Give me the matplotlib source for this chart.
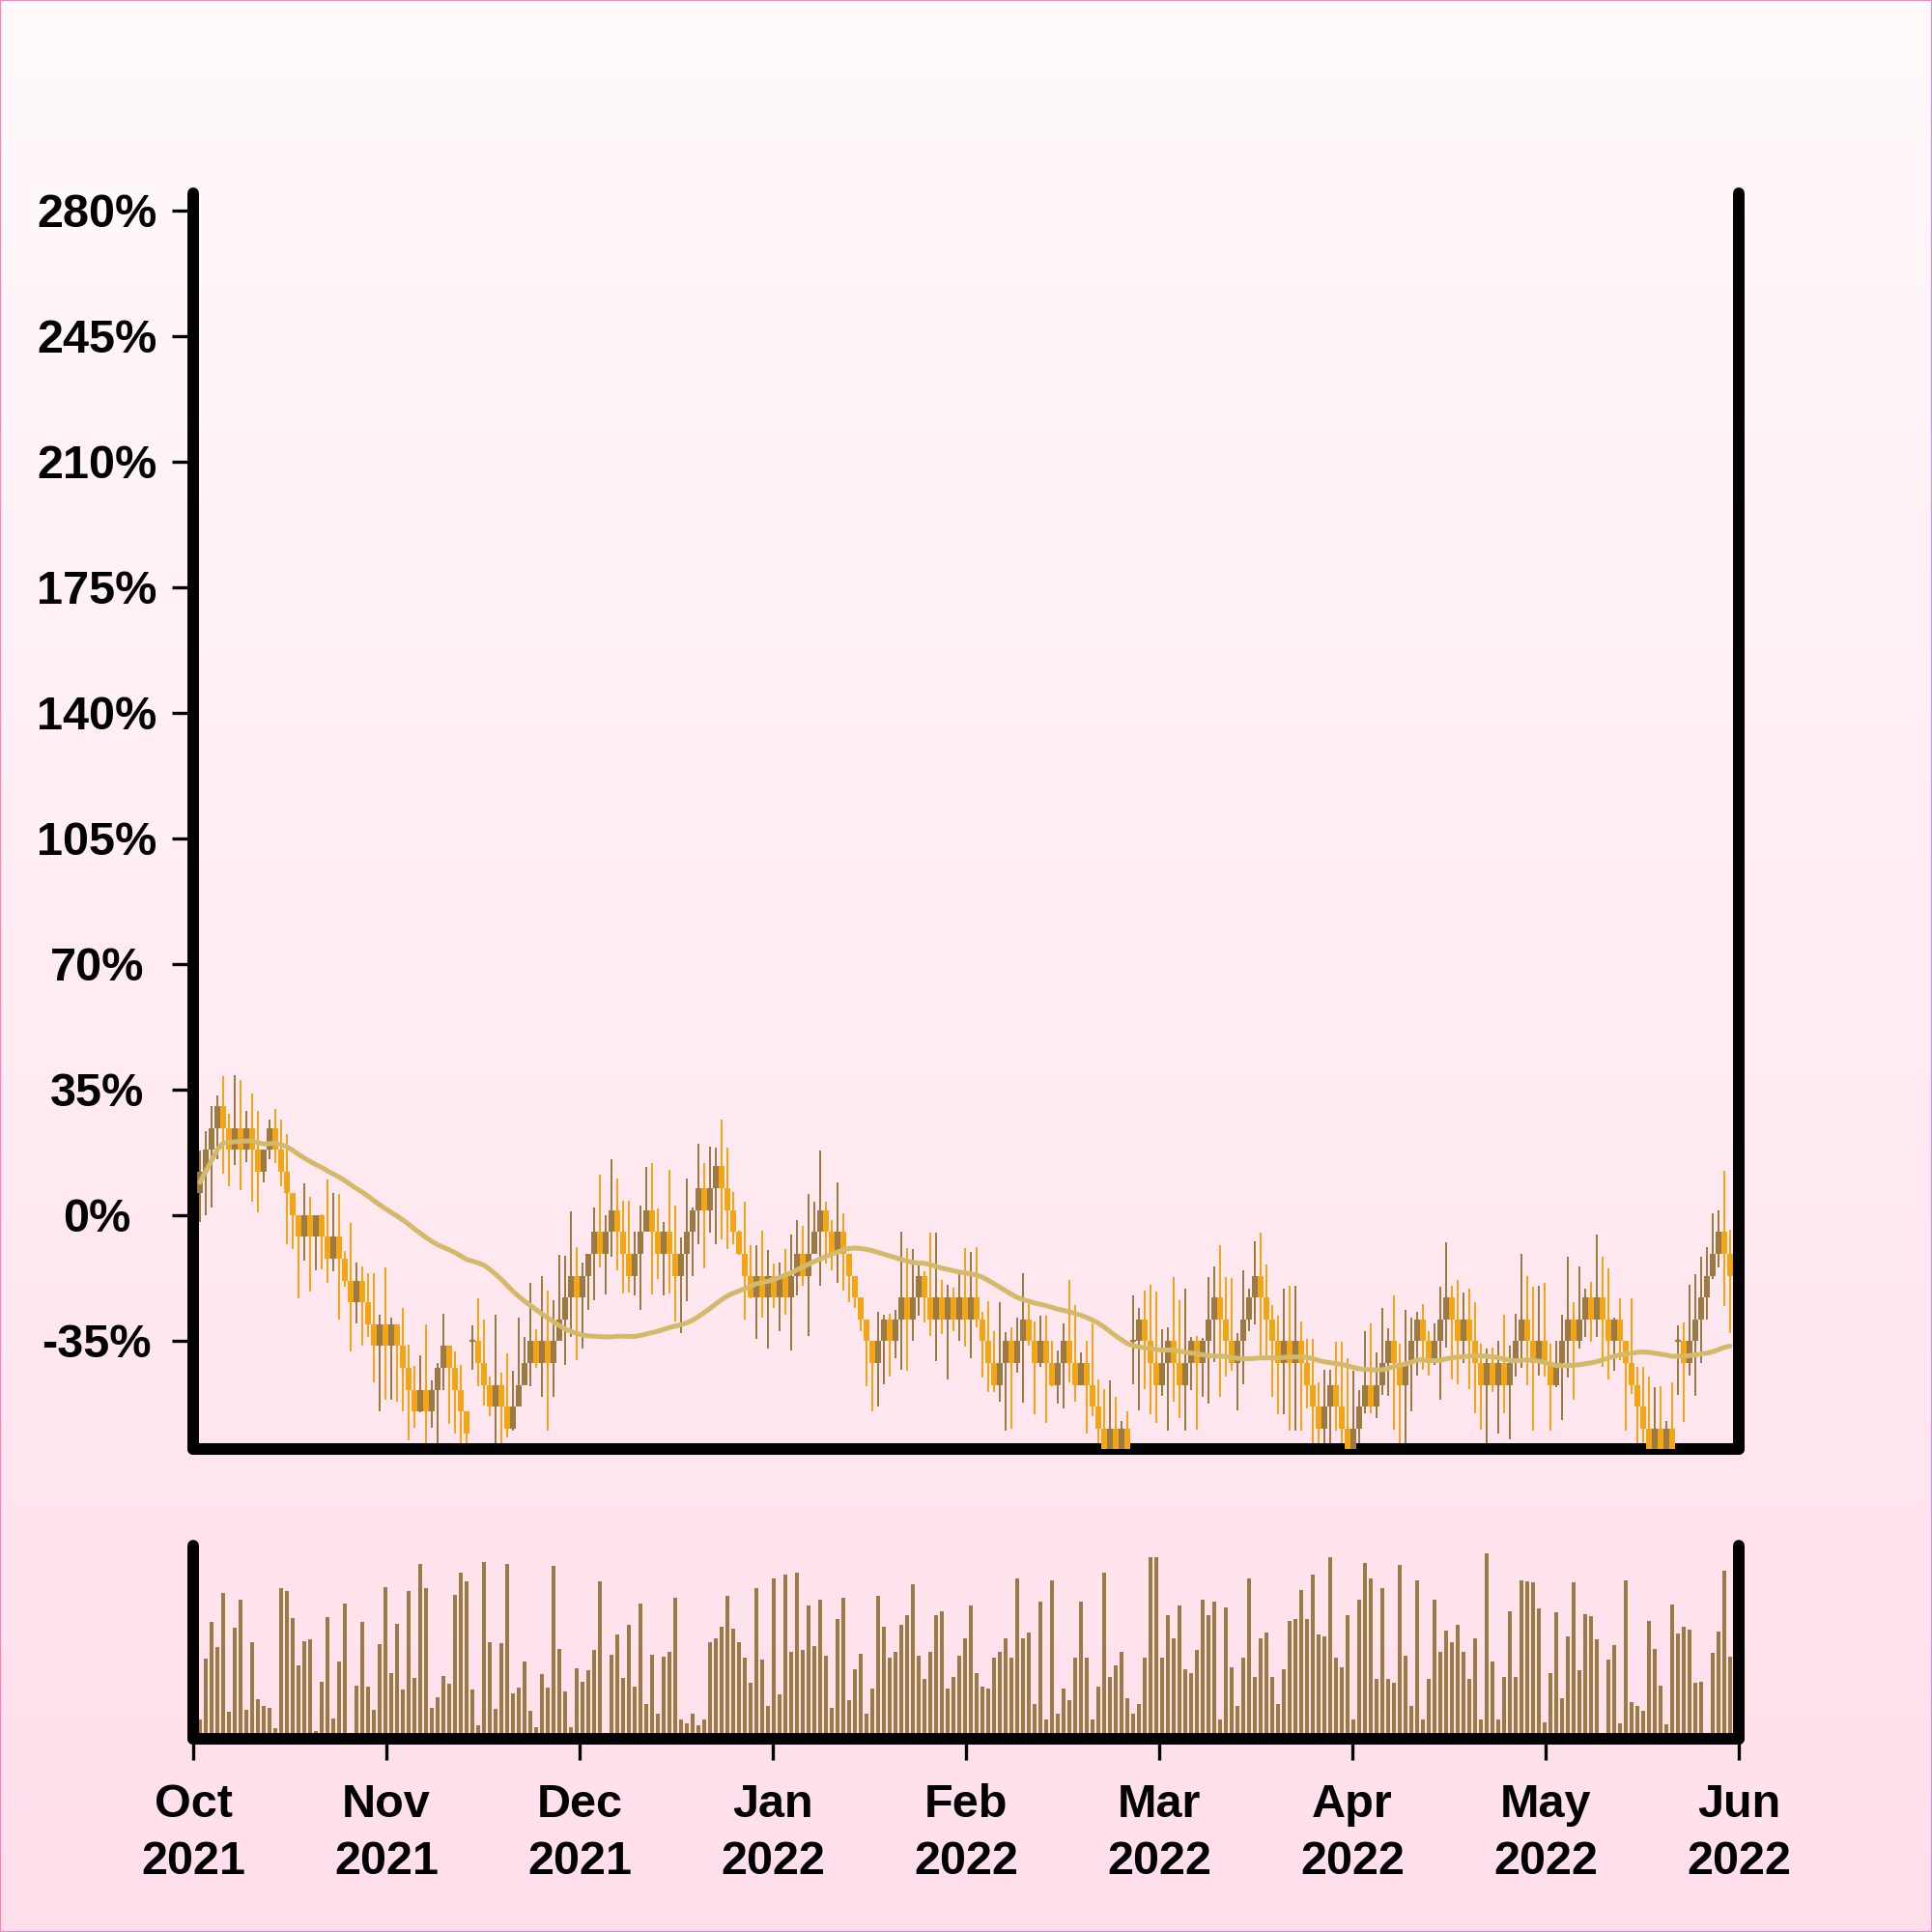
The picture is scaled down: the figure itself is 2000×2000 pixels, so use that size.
import numpy as np
import pandas as pd
import matplotlib
matplotlib.use("Agg")
import matplotlib.pyplot as plt
from matplotlib.ticker import FixedLocator, FuncFormatter
from matplotlib.patches import Rectangle

# ---------------- data ----------------
close_pct = [12.2, 18.3, 24.3, 30.4, 24.3, 18.3, 24.3, 18.3, 24.3, 18.3,
             12.2, 18.3, 24.3, 18.3, 12.2, 6.1, 0.0, -6.1, 0.0, -6.1,
             0.0, -6.1, -12.2, -6.1, -12.2, -18.3, -24.3, -18.3, -24.3, -30.4,
             -36.5, -30.4, -36.5, -30.4, -36.5, -42.6, -48.7, -54.8, -48.7, -54.8,
             -48.7, -42.6, -36.5, -42.6, -48.7, -54.8, -60.9, -35.1, -41.2, -47.3,
             -53.4, -47.3, -53.4, -59.5, -53.4, -47.3, -41.2, -35.1, -41.2, -35.1,
             -41.2, -35.1, -29.0, -22.9, -16.9, -22.9, -16.9, -10.8, -4.7, -10.8,
             -4.7, 1.4, -4.7, -10.8, -16.9, -10.8, -4.7, 1.4, -4.7, -10.8,
             -4.7, -10.8, -16.9, -10.8, -4.7, 1.4, 7.5, 1.4, 7.5, 13.6,
             7.5, 1.4, -4.7, -10.8, -16.9, -22.9, -16.9, -22.9, -16.9, -22.9,
             -16.9, -22.9, -16.9, -10.8, -16.9, -10.8, -4.7, 1.4, -4.7, -10.8,
             -4.7, -10.8, -16.9, -22.9, -29.0, -35.1, -41.2, -35.1, -29.0, -35.1,
             -29.0, -22.9, -29.0, -22.9, -16.9, -22.9, -29.0, -22.9, -29.0, -22.9,
             -29.0, -22.9, -29.0, -22.9, -29.0, -35.1, -41.2, -47.3, -41.2, -35.1,
             -41.2, -35.1, -29.0, -35.1, -41.2, -35.1, -41.2, -47.3, -41.2, -35.1,
             -41.2, -47.3, -41.2, -47.3, -53.4, -59.5, -65.6, -59.5, -65.6, -59.5,
             -65.6, -35.1, -29.0, -35.1, -41.2, -47.3, -41.2, -35.1, -41.2, -47.3,
             -41.2, -35.1, -41.2, -35.1, -29.0, -22.9, -29.0, -35.1, -41.2, -35.1,
             -29.0, -22.9, -16.9, -22.9, -29.0, -35.1, -41.2, -35.1, -41.2, -35.1,
             -41.2, -47.3, -53.4, -59.5, -53.4, -47.3, -53.4, -59.5, -65.6, -59.5,
             -53.4, -47.3, -53.4, -47.3, -41.2, -35.1, -41.2, -47.3, -41.2, -35.1,
             -29.0, -35.1, -41.2, -35.1, -29.0, -22.9, -29.0, -35.1, -29.0, -35.1,
             -41.2, -47.3, -41.2, -47.3, -41.2, -47.3, -41.2, -35.1, -29.0, -35.1,
             -41.2, -35.1, -41.2, -47.3, -41.2, -35.1, -29.0, -35.1, -29.0, -22.9,
             -29.0, -22.9, -29.0, -35.1, -29.0, -35.1, -41.2, -47.3, -53.4, -59.5,
             -65.6, -59.5, -65.6, -59.5, -65.6, -35.1, -41.2, -35.1, -29.0, -22.9,
             -16.9, -10.8, -4.7, -10.8, -16.9]

high_pct = [18.0, 23.3, 30.5, 33.4, 38.6, 28.3, 39.0, 37.7, 28.9, 33.8,
            28.9, 18.3, 26.7, 29.6, 26.5, 22.6, 5.4, 0.0, 8.8, 5.0,
            0.0, 0.2, 9.9, 6.1, 5.8, -10.0, -2.2, -13.3, -14.4, -16.2,
            -16.2, -27.8, -14.6, -28.7, -30.4, -26.0, -36.0, -42.0, -39.0, -30.5,
            -46.2, -41.3, -27.6, -36.8, -38.1, -41.7, -54.8, -30.7, -23.3, -29.2,
            -44.9, -27.8, -43.8, -38.6, -43.3, -28.7, -34.1, -18.8, -31.9, -17.1,
            -21.1, -23.8, -11.2, -11.4, 0.9, -9.0, -13.3, -11.2, 2.1, 11.2,
            0.0, 15.5, 10.1, 4.1, 3.9, -4.5, 2.7, 13.3, 14.6, 1.8,
            -2.0, 12.6, 2.7, -6.3, 10.1, 2.0, 19.8, 14.6, 19.0, 18.7,
            26.5, 18.7, 6.3, -4.3, 3.8, -8.5, -8.5, -4.3, -9.7, -13.5,
            -13.3, -9.4, -5.4, -1.3, -2.9, 5.9, 3.6, 18.0, 3.6, -1.3,
            9.0, 0.5, -10.8, -19.7, -23.1, -29.6, -35.0, -26.9, -27.8, -27.5,
            -26.5, -4.7, -9.1, -9.4, -14.0, -15.7, -5.0, -4.9, -18.0, -19.3,
            -20.2, -16.6, -9.2, -10.3, -8.8, -27.0, -24.0, -32.3, -24.4, -32.5,
            -31.4, -28.7, -16.2, -24.9, -29.6, -28.1, -28.1, -35.0, -37.7, -30.2,
            -18.0, -25.1, -38.4, -35.0, -30.1, -45.8, -48.5, -46.2, -50.7, -57.4,
            -54.6, -22.3, -26.0, -21.0, -19.5, -21.3, -31.9, -31.4, -17.2, -23.8,
            -20.6, -34.0, -33.7, -34.3, -17.2, -14.4, -8.5, -17.2, -17.5, -32.8,
            -15.3, -20.6, -7.2, -4.9, -13.9, -25.1, -28.1, -20.6, -19.7, -19.7,
            -29.6, -34.6, -34.6, -46.7, -43.1, -43.1, -35.4, -35.4, -39.8, -43.5,
            -48.9, -32.3, -30.2, -38.3, -25.8, -31.6, -22.3, -35.9, -26.3, -28.7,
            -26.9, -24.8, -32.3, -30.3, -20.0, -7.6, -19.7, -18.0, -21.5, -20.4,
            -24.2, -35.9, -37.2, -37.0, -35.0, -27.8, -36.5, -27.4, -10.8, -16.9,
            -19.9, -19.7, -19.0, -35.9, -35.0, -27.8, -11.7, -24.4, -14.4, -20.6,
            -18.7, -5.4, -11.7, -14.8, -28.7, -23.1, -35.0, -23.2, -42.2, -42.4,
            -44.9, -48.0, -47.6, -57.3, -46.5, -30.8, -29.9, -19.5, -16.4, -11.7,
            -8.8, 0.6, 1.4, 12.4, -4.0]

low_pct = [-2.0, 0.0, 2.0, 15.7, 11.5, 8.1, 13.9, 7.0, 14.8, 3.6,
           0.7, 9.2, 15.7, 14.4, 8.1, -8.1, -9.4, -23.3, -12.6, -21.4,
           -15.3, -15.0, -18.8, -15.7, -29.2, -20.0, -38.1, -30.1, -36.3, -34.1,
           -46.7, -54.7, -51.6, -51.6, -52.0, -54.7, -62.8, -59.2, -55.0, -63.7,
           -59.2, -63.7, -48.9, -58.3, -61.0, -64.0, -66.0, -43.0, -47.6, -53.0,
           -56.1, -64.0, -64.0, -62.1, -60.1, -48.5, -47.1, -47.6, -42.6, -50.7,
           -60.1, -50.7, -35.0, -41.7, -34.1, -40.4, -37.2, -26.5, -23.8, -14.5,
           -22.2, -11.7, -15.3, -21.8, -21.5, -22.4, -26.5, -4.3, -22.2, -17.8,
           -22.3, -21.8, -29.6, -32.8, -24.0, -17.0, -8.1, -14.8, -5.0, -8.1,
           -6.7, -9.4, -8.1, -11.2, -29.2, -23.3, -34.5, -28.7, -37.2, -26.0,
           -32.3, -27.8, -37.7, -22.4, -19.7, -33.7, -10.0, -19.7, -13.5, -15.3,
           -18.8, -21.1, -24.2, -26.0, -32.3, -47.6, -54.7, -53.4, -47.1, -44.9,
           -40.0, -43.1, -43.5, -35.0, -28.0, -30.0, -33.7, -40.8, -33.2, -45.8,
           -32.3, -35.0, -36.6, -39.9, -31.2, -45.3, -49.4, -49.4, -51.9, -60.1,
           -59.5, -44.0, -52.2, -36.3, -55.5, -42.2, -57.9, -47.6, -52.5, -53.8,
           -46.7, -52.1, -43.5, -61.0, -56.1, -66.0, -66.0, -66.0, -66.0, -66.0,
           -66.0, -47.1, -54.3, -48.5, -55.6, -57.9, -50.3, -60.0, -52.0, -56.7,
           -60.1, -48.9, -59.7, -50.7, -52.5, -41.1, -50.7, -44.9, -43.5, -54.3,
           -47.1, -32.3, -30.5, -39.5, -39.0, -50.7, -55.6, -55.6, -60.1, -60.1,
           -60.1, -53.8, -66.0, -66.0, -66.0, -66.0, -60.1, -66.0, -66.0, -66.0,
           -66.0, -55.2, -55.2, -56.5, -50.1, -50.3, -59.7, -66.0, -66.0, -54.6,
           -44.7, -43.1, -44.7, -41.7, -51.6, -36.8, -45.8, -47.1, -41.3, -48.6,
           -55.2, -59.7, -66.0, -49.2, -61.0, -55.2, -62.6, -44.9, -42.6, -47.4,
           -60.1, -44.7, -45.1, -60.0, -48.0, -57.0, -45.3, -51.6, -37.2, -34.1,
           -35.4, -33.9, -42.2, -45.8, -43.5, -40.4, -60.0, -49.8, -66.0, -66.0,
           -66.0, -66.0, -66.0, -66.0, -66.0, -50.1, -57.6, -44.7, -50.3, -41.3,
           -29.2, -17.9, -14.6, -25.3, -32.8]

volume = [10, 41.7, 60.3, 47.5, 75.5, 13.8, 57.3, 72.2, 15, 49.8,
          20.3, 17, 16.2, 5.3, 77.8, 76.3, 62.3, 38.2, 50.3, 51.7,
          4, 29.5, 63.2, 10.7, 40, 70.2, 0, 27.7, 60.7, 27,
          14.8, 48.8, 78.5, 34.2, 59.5, 25.5, 76.7, 31.5, 90.5, 78,
          16, 21.3, 32.5, 28.7, 74.5, 85.8, 81.5, 25.5, 7.2, 91.5,
          50, 15.5, 49.3, 90.3, 23.3, 26.7, 40, 14.5, 5.8, 33.5,
          26.5, 89.5, 46.5, 24.3, 5.8, 36.7, 29.3, 35.5, 46.2, 81.5,
          0, 43.3, 54, 31.5, 59, 27, 70, 18, 43.3, 13.2,
          42.3, 45, 73, 10, 8, 13, 7, 10, 50, 52,
          58, 74, 57, 50, 42, 29, 78, 41, 17, 83,
          23, 85, 45, 86, 46, 69, 48, 72, 43, 16,
          62, 73, 20, 36, 44, 13, 26, 74, 58, 42,
          45, 59, 64, 80, 43, 31, 45, 64, 66, 26,
          32, 43, 52, 69, 34, 27, 26, 42, 45, 52,
          42, 83, 52, 55, 18, 71, 10, 82, 13, 26,
          20, 42, 71, 42, 10, 27, 86, 32, 38, 45,
          21, 13, 18, 42, 94, 94, 42, 64, 52, 69,
          36, 34, 46, 72, 64, 71, 10, 68, 37, 17,
          42, 83, 32, 52, 55, 32, 18, 36, 61, 62,
          77, 62, 85, 54, 53, 94, 42, 37, 64, 10,
          72, 91, 83, 31, 78, 31, 29, 90, 43, 17,
          82, 10, 31, 72, 45, 56, 50, 59, 45, 31,
          52, 10, 96, 40, 10, 32, 66, 32, 82, 81.3,
          81, 67.5, 8.3, 33.8, 65.5, 20.8, 53.2, 80.8, 35.3, 64.5,
          63.3, 51.3, 0, 40.8, 48.3, 7.8, 81.8, 19.2, 17, 14.7,
          60.8, 46.3, 27.3, 7.5, 69.5, 54.3, 57.8, 56.3, 29, 29.5,
          0, 44.3, 55.3, 86.8, 42.3]

first_open = 6.1
gap_bars = [47, 161, 255]          # bars that open where they close
ma_window = 50

y_ticks = [-35, 0, 35, 70, 105, 140, 175, 210, 245, 280]
month_labels = ["Oct\n2021", "Nov\n2021", "Dec\n2021", "Jan\n2022", "Feb\n2022",
                "Mar\n2022", "Apr\n2022", "May\n2022", "Jun\n2022"]

UP = "#9b7b43"
DOWN = "#f2a515"
MA_COL = "#d4b96a"

# ---------------- derived series ----------------
n = len(close_pct)
close = np.array(close_pct)
opens = np.empty(n)
opens[0] = first_open
opens[1:] = close[:-1]
for g in gap_bars:
    opens[g] = close[g]
high = np.array(high_pct)
low = np.array(low_pct)
vol = np.array(volume, dtype=float)

x = np.arange(n)
x_lo = -7 / 6
x_hi = x_lo + 1600 / 6
up = close >= opens
colors = np.where(up, UP, DOWN)
mid = (opens + close) / 2
ma = pd.Series(mid).rolling(ma_window, min_periods=1).mean().values

# ---------------- figure ----------------
plt.rcParams["font.family"] = ["Liberation Sans", "DejaVu Sans"]
plt.rcParams["font.weight"] = "bold"

fig = plt.figure(figsize=(20, 20), dpi=100)

bg = fig.add_axes([0, 0, 1, 1], zorder=-10)
grad = np.linspace(0, 1, 256).reshape(-1, 1)
top_c = np.array([255, 250, 251]) / 255
bot_c = np.array([255, 223, 235]) / 255
img = top_c[None, None, :] * (1 - grad[:, :, None]) + bot_c[None, None, :] * grad[:, :, None]
bg.imshow(img, aspect="auto", extent=[0, 1, 0, 1])
bg.set_xlim(0, 1); bg.set_ylim(0, 1)
bg.axis("off")
fig.patches.append(Rectangle((0, 0), 1, 1, transform=fig.transFigure, fill=False,
                             edgecolor="#ff80c4", linewidth=1.5, zorder=100))

ax = fig.add_axes([0.1, 0.25, 0.8, 0.65])
axv = fig.add_axes([0.1, 0.10, 0.8, 0.10])
for a in (ax, axv):
    a.set_facecolor("none")
    a.spines["top"].set_visible(False)
    for s in ("left", "right", "bottom"):
        a.spines[s].set_linewidth(8.6)
        a.spines[s].set_capstyle("round")
        a.spines[s].set_color("black")
    a.set_xlim(x_lo, x_hi)

# candles
ax.vlines(x, low, high, colors=colors, linewidth=1.44, zorder=2)
ax.bar(x, close - opens, width=0.999, bottom=opens, color=colors, linewidth=0, zorder=3)
for g in gap_bars:
    ax.hlines(close[g], x[g] - 0.5, x[g] + 0.5, colors=UP, linewidth=1.6, zorder=3)
ax.plot(x, ma, color=MA_COL, linewidth=3.6, zorder=4, solid_capstyle="round")

ax.set_ylim(-65.2, 284.8)
ax.yaxis.set_major_locator(FixedLocator(y_ticks))
ax.yaxis.set_major_formatter(FuncFormatter(lambda v, p: f"{int(round(v))}%"))
ax.tick_params(axis="y", direction="out", length=15.8, width=2.4, pad=56,
               labelsize=35, colors="black")
for t in ax.get_yticklabels():
    t.set_horizontalalignment("center")
ax.tick_params(axis="x", bottom=False, labelbottom=False)

# volume
axv.bar(x, vol, width=0.667, color=UP, linewidth=0)
axv.set_ylim(0, 100)
axv.set_yticks([])
axv.xaxis.set_major_locator(FixedLocator(np.linspace(x_lo, x_hi, len(month_labels))))
axv.set_xticklabels(month_labels, linespacing=1.4)
axv.tick_params(axis="x", direction="out", length=15.8, width=2.4, pad=17,
                labelsize=35, colors="black")

fig.savefig("out.png", dpi=100)
